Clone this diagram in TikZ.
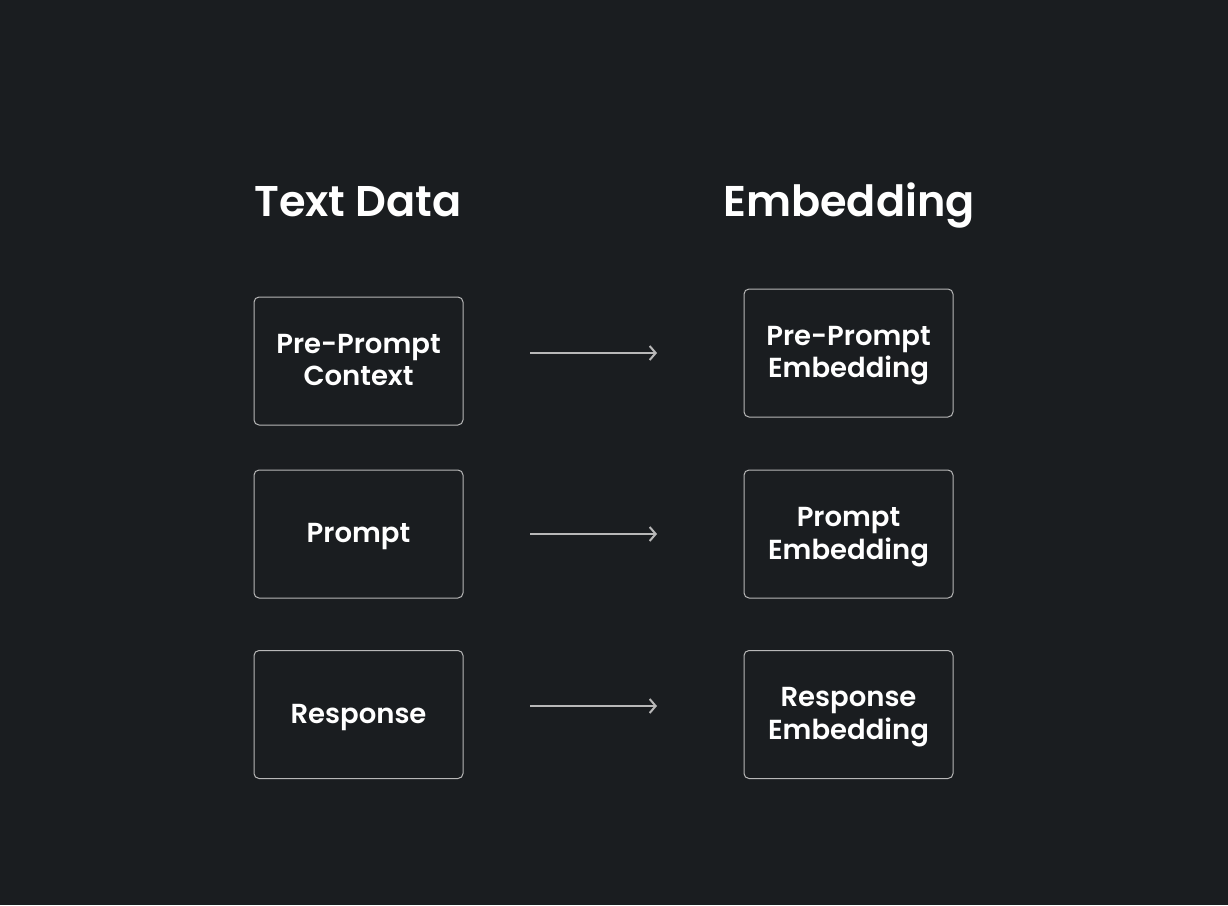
\documentclass[tikz,border=0pt]{standalone}
\usepackage{fontspec}
\setmainfont{Poppins}[UprightFont=* Medium, BoldFont=* SemiBold]
\usetikzlibrary{arrows.meta}
\definecolor{bg}{HTML}{1A1D20}
\definecolor{edge}{HTML}{B8B8B8}
\begin{document}
\begin{tikzpicture}[x=1pt,y=-1pt,
  box/.style={draw=edge, line width=1pt, rounded corners=5pt, minimum width=209pt, minimum height=128pt, inner sep=0pt},
  lbl/.style={inner sep=0pt, text=white, align=center, font=\bfseries\fontsize{27.5}{32.5}\selectfont},
  title/.style={text=white, font=\bfseries\fontsize{43}{50}\selectfont, inner sep=0pt, anchor=base},
  conn/.style={draw=edge, line width=2pt, -{Straight Barb[length=6pt,width=14pt,line width=2pt]}}]
\fill[bg] (0,0) rectangle (1228,905);
\useasboundingbox (0,0) rectangle (1228,905);
\node[title] (t1) at (358,216) {Text Data};
\node[title] (t2) at (849,216) {Embedding};
\node[box] (a1) at (358.5,361) {};
\node[box] (a2) at (358.5,534) {};
\node[box] (a3) at (358.5,714.5) {};
\node[box] (b1) at (848.5,353) {};
\node[box] (b2) at (848.5,534) {};
\node[box] (b3) at (848.5,714.5) {};
\node[lbl] (la1) at ([yshift=1pt]a1.center) {Pre-Prompt\\Context};
\node[lbl] (la2) at ([yshift=-3pt]a2.center) {Prompt};
\node[lbl] (la3) at ([yshift=-3pt]a3.center) {Response};
\node[lbl] (lb1) at ([yshift=-2.5pt]b1.center) {Pre-Prompt\\Embedding};
\node[lbl] (lb2) at ([yshift=-3pt]b2.center) {Prompt\\Embedding};
\node[lbl] (lb3) at ([yshift=-2.5pt]b3.center) {Response\\Embedding};
\coordinate (s1) at (530,353); \coordinate (e1) at (657,353);
\coordinate (s2) at (530,534); \coordinate (e2) at (657,534);
\coordinate (s3) at (530,706); \coordinate (e3) at (657,706);
\draw[conn] (s1) -- (e1);
\draw[conn] (s2) -- (e2);
\draw[conn] (s3) -- (e3);
\end{tikzpicture}
\end{document}
